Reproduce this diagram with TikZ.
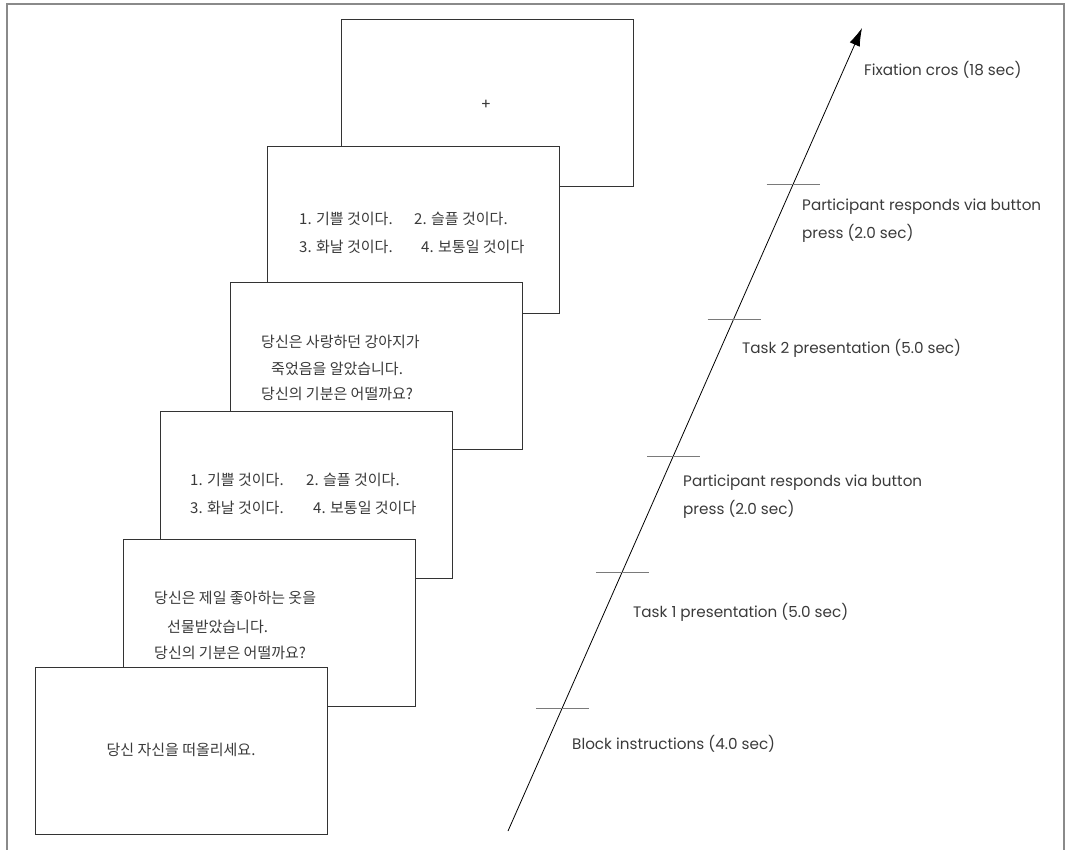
\documentclass[tikz,border=0pt]{standalone}
\usepackage{fontspec}
\setmainfont{Poppins}
\newfontfamily\krfont{Noto Sans CJK KR}
\usepackage{tikz}
\usetikzlibrary{arrows.meta}
\usetikzlibrary{calc}
\definecolor{boxgray}{HTML}{333333}
\definecolor{txtgray}{HTML}{3A3A3A}
\definecolor{tickgray}{HTML}{7A7A7A}
\definecolor{framegray}{HTML}{8A8A8A}

\begin{document}
\begin{tikzpicture}[x=1pt,y=-1pt,font=\fontsize{15.2}{15.2}\selectfont,
  screen/.style={draw=boxgray,fill=white,line width=0.9pt,minimum width=292pt,minimum height=167pt,inner sep=0pt,anchor=north west},
  kr/.style={font=\krfont\fontsize{15}{15}\selectfont,text=txtgray,anchor=west,inner sep=0pt},
  lbl/.style={text=txtgray,anchor=west,inner sep=0pt,align=left},
  tick/.style={draw=tickgray,line width=1pt}]
\useasboundingbox (0,0) rectangle (1068,850);
\draw[framegray,line width=1.3pt] (7,852) -- (7,4) -- (1064,4) -- (1064,852);
% screens, back to front
\path (341,19) node(s1) [screen] {};
\path (486,105) node(s1t) [text=txtgray,inner sep=0pt,font=\fontsize{15}{15}\selectfont] {+};
\path (267,146) node(s2) [screen] {};
\path (299,219) node(s2a) [kr] {1. 기쁠 것이다.};
\path (414,219) node(s2b) [kr] {2. 슬플 것이다.};
\path (299,247) node(s2c) [kr] {3. 화날 것이다.};
\path (421,247) node(s2d) [kr] {4. 보통일 것이다};
\path (230,282) node(s3) [screen] {};
\path (261,342) node(s3a) [kr] {당신은 사랑하던 강아지가};
\path (271,369) node(s3b) [kr] {죽었음을 알았습니다.};
\path (261,394) node(s3c) [kr] {당신의 기분은 어떨까요?};
\path (160,411) node(s4) [screen] {};
\path (190,480) node(s4a) [kr] {1. 기쁠 것이다.};
\path (306,480) node(s4b) [kr] {2. 슬플 것이다.};
\path (190,508) node(s4c) [kr] {3. 화날 것이다.};
\path (313,508) node(s4d) [kr] {4. 보통일 것이다};
\path (123,539) node(s5) [screen] {};
\path (154,598) node(s5a) [kr] {당신은 제일 좋아하는 옷을};
\path (167,627) node(s5b) [kr] {선물받았습니다.};
\path (154,653) node(s5c) [kr] {당신의 기분은 어떨까요?};
\path (35,667) node(s6) [screen] {};
\path (181,750) node(s6a) [kr,anchor=center] {당신 자신을 떠올리세요.};
% time axis
\coordinate (tail) at (508,831);
\coordinate (head) at (862,28);
\draw[-{Latex[length=18pt,width=11pt]},line width=0.8pt] (tail) -- (head);
\foreach \ty in {185,319,456,572,708}{
  \pgfmathsetmacro\tx{508+0.4414*(831-\ty)}
  \draw[tick] (\tx-26.5,\ty) -- (\tx+26.5,\ty);
}
\path (864,70) node(l1) [lbl] {Fixation cros (18 sec)};
\path (802,221) node(l2) [lbl,font=\fontsize{15.2}{28}\selectfont] {Participant responds via button\\press (2.0 sec)};
\path (742,348) node(l3) [lbl] {Task 2 presentation (5.0 sec)};
\path (683,497) node(l4) [lbl,font=\fontsize{15.2}{28}\selectfont] {Participant responds via button\\press (2.0 sec)};
\path (633,612) node(l5) [lbl] {Task 1 presentation (5.0 sec)};
\path (572,744) node(l6) [lbl] {Block instructions (4.0 sec)};
\end{tikzpicture}
\end{document}
